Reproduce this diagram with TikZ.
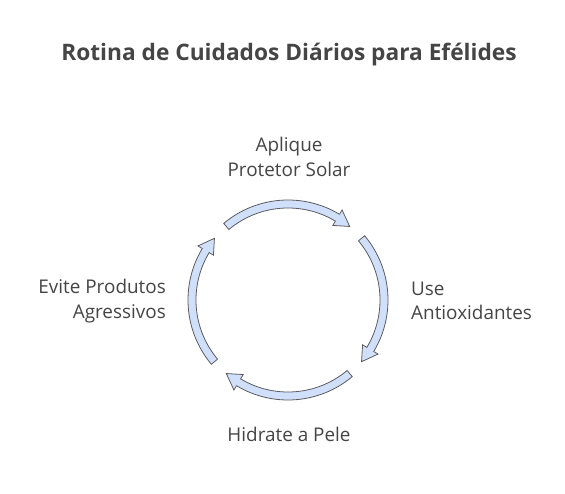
\documentclass[tikz,border=0pt]{standalone}
\usepackage{fontspec}
\setmainfont{Open Sans}
\usepackage{tikz}
\usepackage{xcolor}
\usetikzlibrary{positioning}
\definecolor{ink}{rgb}{0.27, 0.27, 0.27}
\definecolor{edge}{rgb}{0.36, 0.36, 0.38}
\definecolor{paleblue}{rgb}{0.82, 0.88, 0.98}
\tikzstyle{cyc}=[draw=edge, fill=paleblue, line width=0.8pt, line join=miter]
\tikzstyle{lbl}=[text=ink, inner sep=0pt, font=\fontsize{18.9pt}{24.5pt}\selectfont]
% one curved arrow of the cycle, from tail angle to tip angle
\newcommand{\arcarrow}[2]{%
  \pgfmathsetmacro{\headbase}{#2+9}
  \draw[cyc] (#1:100pt) arc[start angle=#1, end angle=\headbase, radius=100pt]
    -- (\headbase:105pt) -- (#2:96pt) -- (\headbase:87pt) -- (\headbase:92pt)
    arc[start angle=\headbase, end angle=#1, radius=92pt] -- cycle;}

\begin{document}
\begin{tikzpicture}[x=1pt, y=1pt]
\useasboundingbox (0,0) rectangle (565,493);

\node [text=ink, font=\fontsize{22.7pt}{24pt}\selectfont\bfseries] (title) at (289,438) {Rotina de Cuidados Diários para Efélides};

\begin{scope}[shift={(288,193)}]
\arcarrow{130}{50}
\arcarrow{40}{-40}
\arcarrow{-50}{-130}
\arcarrow{-140}{-220}
\end{scope}

\node [lbl, align=center] (aplique) at (289,336) {Aplique\\Protetor Solar};
\node [lbl, align=left, anchor=west] (use) at (411,192) {Use\\Antioxidantes};
\node [lbl, align=center] (hidrate) at (289,59) {Hidrate a Pele};
\node [lbl, align=right, anchor=east] (evite) at (166,192) {Evite Produtos\\Agressivos};

\end{tikzpicture}
\end{document}
